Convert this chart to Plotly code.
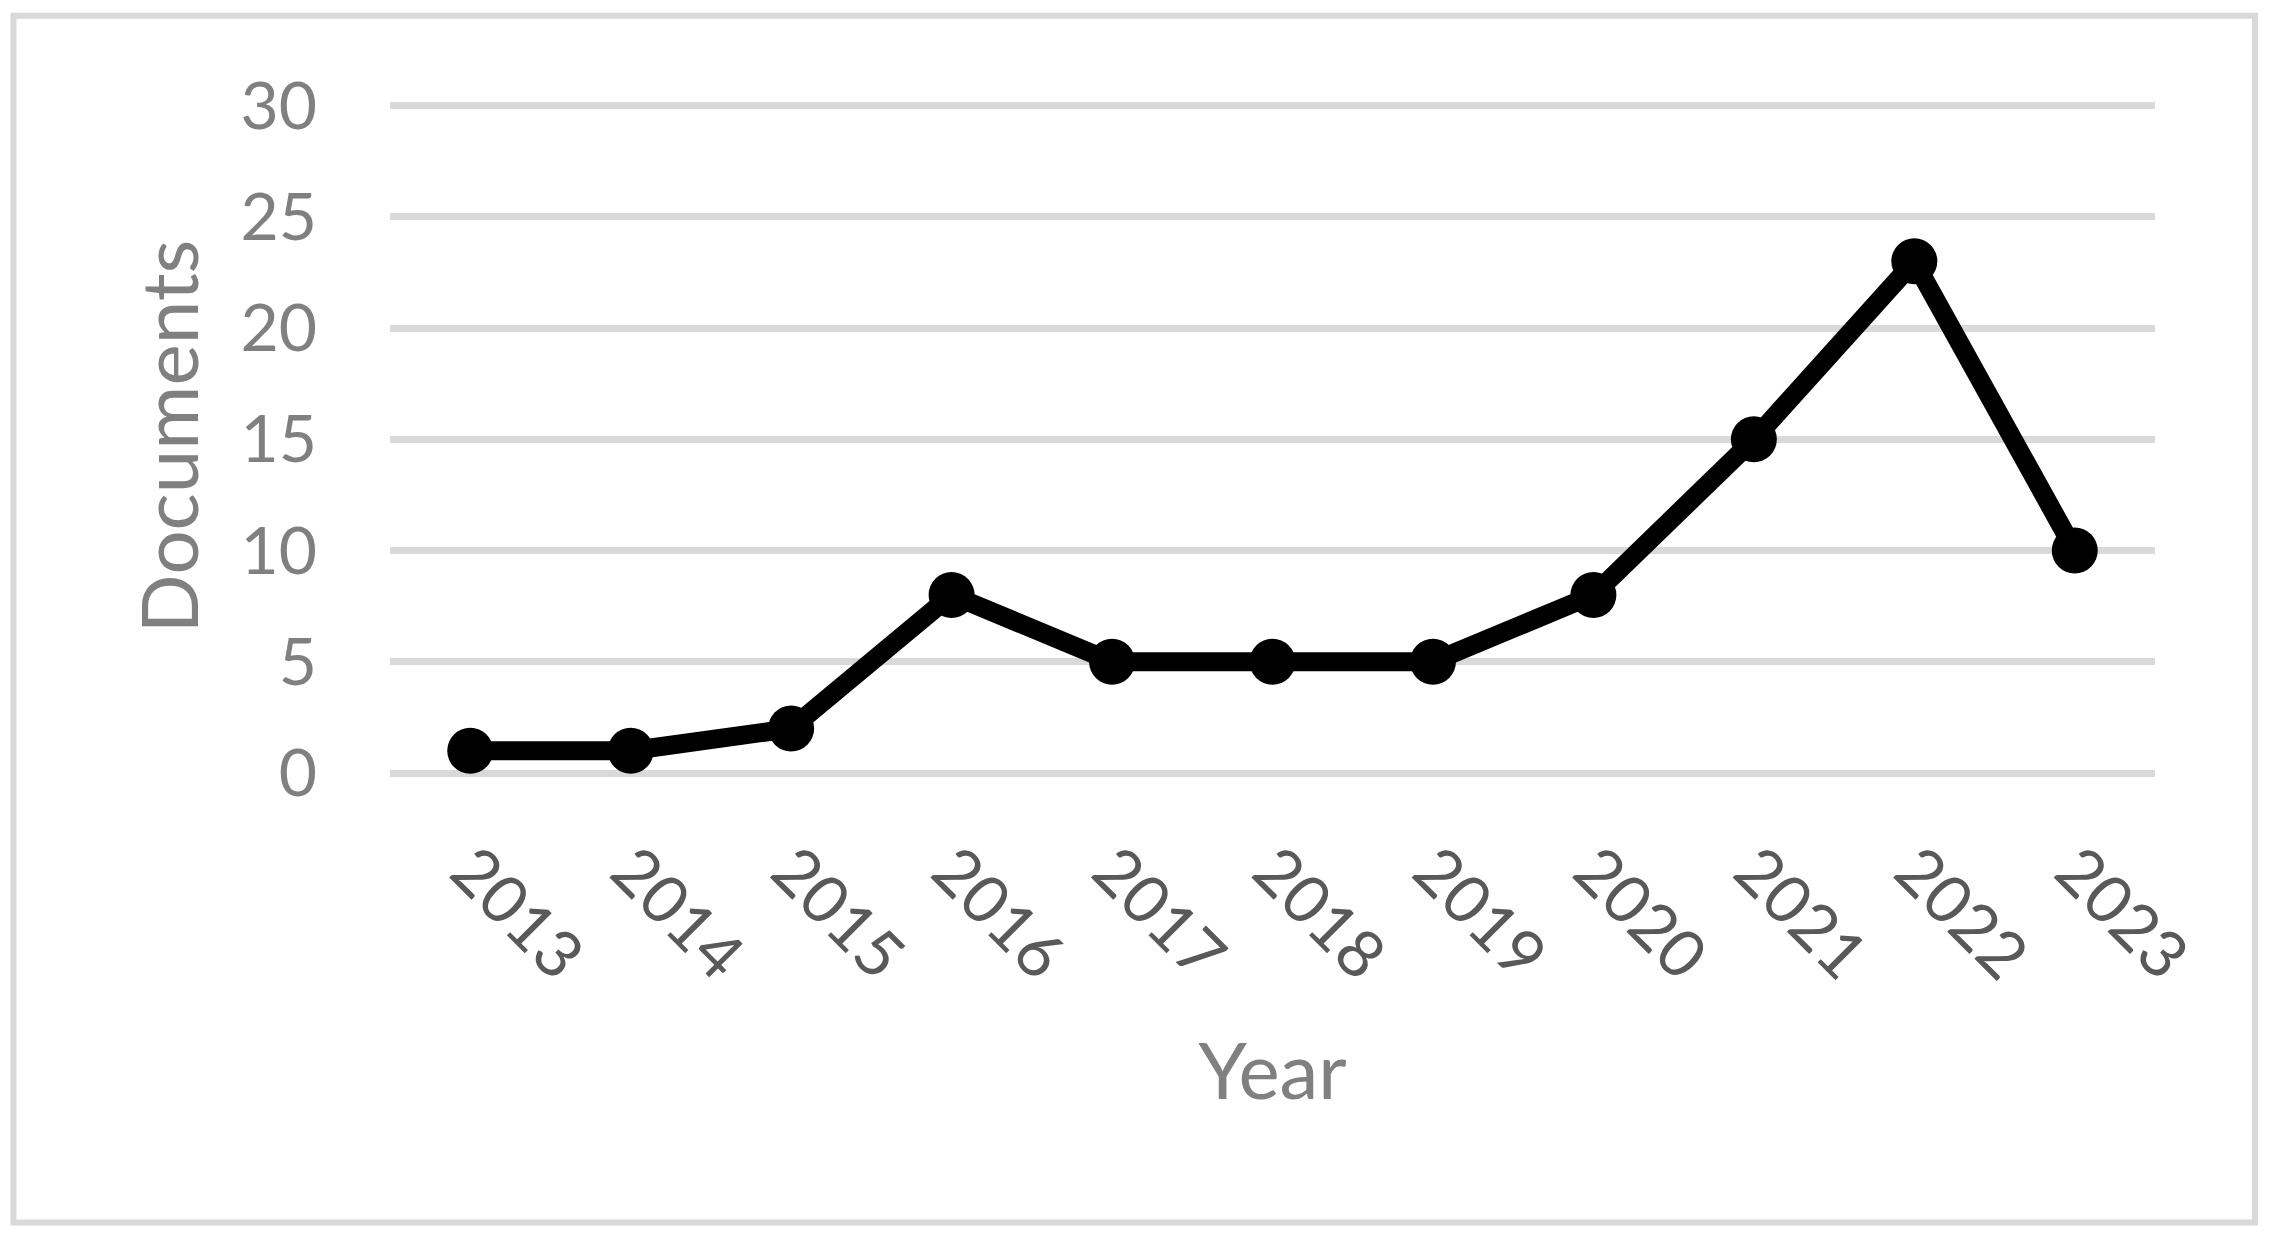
import plotly.graph_objects as go

years = ["2013", "2014", "2015", "2016", "2017", "2018", "2019", "2020", "2021", "2022", "2023"]
documents = [1, 1, 2, 8, 5, 5, 5, 8, 15, 23, 10]
y_ticks = [0, 5, 10, 15, 20, 25, 30]

# page body has an 8px default margin; work in window pixels and offset
OFF = 8
W, H = 2259, 1226
Y_TOP_TICK = 30
Y_MAX = 30.25
PLOT_L, PLOT_R, PLOT_B = 390, 2155, 773.5          # window pixels
TICK30_PX = 105.5
UNIT = (PLOT_B - TICK30_PX) / Y_TOP_TICK
PLOT_T = PLOT_B - Y_MAX * UNIT

ML = PLOT_L - OFF
MT = PLOT_T - OFF
MR = W - (PLOT_R - OFF)
MB = H - (PLOT_B - OFF)
PW, PH = W - ML - MR, H - MT - MB

def px_x(p):
    return (p - OFF - ML) / PW

def px_y(p):
    return (H - MB - (p - OFF)) / PH

fig = go.Figure()
fig.add_trace(go.Scatter(
    x=years, y=documents, mode="lines+markers",
    line=dict(color="#000000", width=19),
    marker=dict(color="#000000", size=46),
    showlegend=False, cliponaxis=False,
))

font = "Lato, Calibri, Carlito, sans-serif"
fig.update_layout(
    width=W, height=H,
    margin=dict(l=ML, r=MR, t=MT, b=MB, autoexpand=False),
    paper_bgcolor="white", plot_bgcolor="white",
    font=dict(family=font),
    xaxis=dict(
        type="category", range=[-0.5, 10.5],
        showgrid=False, zeroline=False, showline=False,
        tickangle=45, tickfont=dict(size=66, color="#595959", family=font),
        ticklabelstandoff=45,
        title=dict(text="Year", font=dict(size=78, color="#808080", family=font), standoff=51),
    ),
    yaxis=dict(
        range=[0, Y_MAX], tickvals=y_ticks,
        showgrid=True, gridcolor="#d9d9d9", gridwidth=7,
        zeroline=True, zerolinecolor="#d9d9d9", zerolinewidth=7,
        showline=False,
        tickfont=dict(size=66, color="#808080", family=font),
        ticklabelstandoff=72,
        title=dict(text="Documents", font=dict(size=78, color="#808080", family=font), standoff=16),
    ),
    shapes=[dict(
        type="rect", xref="paper", yref="paper",
        x0=px_x(13.5), x1=px_x(2255), y0=px_y(1223.5), y1=px_y(15.5),
        line=dict(color="#d9d9d9", width=6), layer="below",
    )],
)

fig.write_html("out.html")
